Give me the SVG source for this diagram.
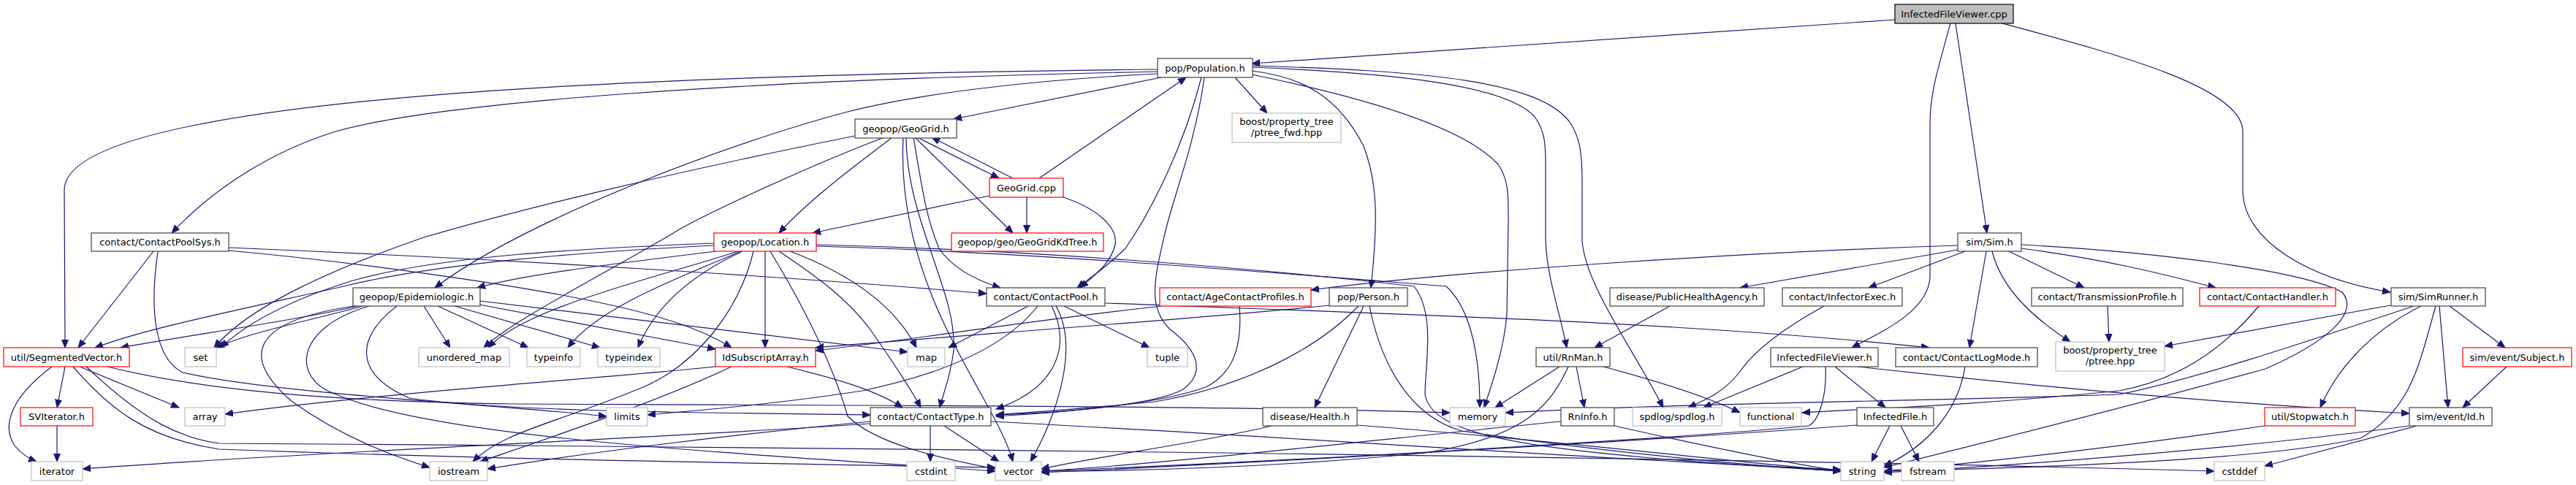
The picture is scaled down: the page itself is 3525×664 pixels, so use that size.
<svg xmlns="http://www.w3.org/2000/svg" width="3525" height="664" viewBox="0 0 3525 664">
<style>
.b rect{fill:#fff;stroke:#404040;stroke-width:1.2}
.r rect{fill:#fff;stroke:#ff0000;stroke-width:1.2}
.g rect{fill:#fff;stroke:#bfbfbf;stroke-width:1.2}
.m rect{fill:#bfbfbf;stroke:#000;stroke-width:1.2}
text{font-family:"DejaVu Sans","Liberation Sans",sans-serif;font-size:13px;fill:#000;text-anchor:middle}
#edges path{fill:none;stroke:#191970;stroke-width:1.2;marker-end:url(#a)}
</style>
<defs>
<marker id="a" markerUnits="userSpaceOnUse" markerWidth="12" markerHeight="10" refX="11" refY="5" orient="auto"><path d="M0,0.5 L11,5 L0,9.5 z" fill="#191970" stroke="#191970"/></marker>
</defs>
<rect width="3525" height="664" fill="#fff"/>
<g id="edges">
<path d="M2593,27 L1713,87"/>
<path d="M2676,32 L2719,319"/>
<path d="M2669,32 C2650,100 2641,130 2641,170 L2641,380 C2638,425 2580,452 2534,476"/>
<path d="M2740,32 C2900,75 3069,120 3069,180 L3069,260 C3069,330 3160,382 3271,400"/>
<path d="M1589,106 L1305,163"/>
<path d="M1584,95 C900,102 88,130 88,260 L89,476"/>
<path d="M1584,98 C1000,110 600,140 459,180 C380,205 300,250 235,319"/>
<path d="M1584,101 C1400,110 1250,130 1160,153 C1000,195 720,300 595,394"/>
<path d="M1644,106 C1620,200 1575,290 1540,340 C1515,365 1495,378 1474,394"/>
<path d="M1648,106 C1635,200 1605,270 1594,320 C1580,380 1570,420 1600,450 C1640,480 1650,510 1619,533 C1580,555 1450,565 1363,568"/>
<path d="M1690,106 L1734,155"/>
<path d="M1713,97 C1780,105 1830,130 1866,200 C1885,250 1886,300 1876,394"/>
<path d="M1713,102 C1850,130 2000,170 2050,225 C2064,245 2064,265 2064,300 L2062,430 C2058,480 2040,530 2031,558"/>
<path d="M1713,92 C1900,100 2060,115 2100,160 C2115,180 2115,200 2115,230 L2115,330 C2117,380 2135,430 2144,476"/>
<path d="M1713,90 C1950,97 2110,110 2150,170 C2162,190 2165,210 2165,250 L2165,330 C2170,390 2230,470 2276,558"/>
<path d="M1255,188 L1367,244"/>
<path d="M1386,244 L1275,188"/>
<path d="M1252,188 L1386,319"/>
<path d="M1405,270 L1405,319"/>
<path d="M1422,244 L1623,106"/>
<path d="M1354,268 L1112,319"/>
<path d="M1455,270 C1500,285 1530,310 1526,335 C1520,360 1500,375 1478,394"/>
<path d="M1221,188 C1180,220 1110,270 1066,319"/>
<path d="M1210,188 C1100,230 950,300 920,320 C800,390 700,440 662,476"/>
<path d="M1170,186 C900,240 700,290 580,325 C450,370 340,420 293,476"/>
<path d="M1250,188 C1262,260 1268,300 1285,340 C1305,370 1340,385 1369,394"/>
<path d="M1240,188 C1240,300 1310,400 1305,480 C1300,520 1290,540 1286,558"/>
<path d="M1236,188 C1230,300 1270,400 1300,460 C1340,540 1375,590 1386,632"/>
<path d="M210,344 L107,476"/>
<path d="M216,344 C205,420 210,490 250,510 C380,540 700,555 830,570"/>
<path d="M313,339 C700,355 1100,380 1350,402"/>
<path d="M313,343 C500,360 700,390 800,410 C900,430 960,450 1001,476"/>
<path d="M980,344 C850,360 720,375 653,394"/>
<path d="M977,336 C800,345 600,360 470,392 C300,430 200,450 130,476"/>
<path d="M977,333 C800,340 600,350 480,385 C400,410 340,440 302,476"/>
<path d="M1010,344 C900,380 720,420 668,476"/>
<path d="M1014,344 C930,380 820,420 777,476"/>
<path d="M1016,344 C960,370 900,410 873,476"/>
<path d="M1047,344 L1047,476"/>
<path d="M1031,344 C1010,430 950,500 880,530 C760,580 690,590 647,632"/>
<path d="M1054,344 C1100,420 1140,500 1160,570 C1200,610 1300,630 1362,642"/>
<path d="M1066,344 C1120,380 1160,410 1190,450 C1225,500 1245,530 1260,558"/>
<path d="M1081,344 C1150,370 1220,410 1254,476"/>
<path d="M1117,337 C1400,345 1700,370 1979,392 C2010,420 2025,480 2025,558"/>
<path d="M1117,335 C1400,342 1700,365 1935,392 C1965,430 1950,500 1950,540 C1960,600 2100,620 2519,645"/>
<path d="M490,419 C400,440 250,460 165,476"/>
<path d="M497,419 C420,440 340,455 296,476"/>
<path d="M580,419 L616,476"/>
<path d="M599,419 L723,476"/>
<path d="M622,419 L821,476"/>
<path d="M656,417 L979,478"/>
<path d="M657,412 C900,440 1100,465 1242,482"/>
<path d="M485,419 C340,440 330,490 400,550 C470,600 540,625 588,640"/>
<path d="M505,419 C400,450 400,520 460,540 C600,600 1000,620 1362,645"/>
<path d="M543,419 C490,460 480,510 560,545 C700,565 1000,565 1191,568"/>
<path d="M71,502 C20,540 0,580 20,610 C28,620 40,628 50,632"/>
<path d="M89,502 L78,558"/>
<path d="M109,502 L245,558"/>
<path d="M147,502 C300,540 500,550 700,553 C1200,555 1700,556 1984,565"/>
<path d="M100,502 C150,560 200,600 300,615 C700,630 1100,635 1362,640"/>
<path d="M118,502 C200,580 250,600 300,607 C1500,615 2500,630 3030,645"/>
<path d="M78,583 L78,632"/>
<path d="M979,502 C800,520 500,540 308,567"/>
<path d="M1001,502 C900,550 750,600 657,632"/>
<path d="M1077,502 C1150,520 1200,535 1235,558"/>
<path d="M1407,419 L1298,476"/>
<path d="M1420,419 C1380,470 1300,510 1180,535 C1050,555 950,562 886,568"/>
<path d="M1439,419 C1465,470 1450,530 1363,560"/>
<path d="M1445,419 C1480,480 1440,580 1410,632"/>
<path d="M1456,419 L1573,476"/>
<path d="M1512,415 C1900,430 2300,440 2640,476"/>
<path d="M1590,419 C1400,440 1250,465 1116,480"/>
<path d="M1696,419 C1700,470 1690,510 1650,530 C1580,555 1450,565 1363,570"/>
<path d="M1819,418 C1600,440 1300,460 1116,476"/>
<path d="M1859,419 C1800,480 1700,530 1580,550 C1480,560 1400,565 1363,568"/>
<path d="M1866,419 L1799,558"/>
<path d="M1874,419 C1890,500 1930,570 2000,590 C2200,620 2400,638 2519,645"/>
<path d="M1740,583 C1650,605 1500,625 1425,642"/>
<path d="M1857,582 C2100,600 2350,630 2519,645"/>
<path d="M1273,583 L1273,632"/>
<path d="M1292,583 L1367,632"/>
<path d="M1191,577 C1000,595 800,620 667,642"/>
<path d="M1191,580 C900,600 400,620 113,642"/>
<path d="M1356,577 C1800,600 2200,630 2519,643"/>
<path d="M2285,419 L2182,476"/>
<path d="M2679,336 C2400,345 2000,370 1794,397"/>
<path d="M2679,342 L2381,394"/>
<path d="M2689,344 L2557,394"/>
<path d="M2718,344 L2695,476"/>
<path d="M2726,344 C2740,400 2790,440 2833,468"/>
<path d="M2749,344 L2852,394"/>
<path d="M2766,340 C2880,355 2960,375 3032,394"/>
<path d="M2766,335 C2950,345 3150,370 3205,400 C3230,430 3180,470 3100,505 C2900,560 2700,610 2578,640"/>
<path d="M2496,419 C2440,450 2400,480 2380,510 C2360,535 2340,545 2310,558"/>
<path d="M2134,502 L2046,558"/>
<path d="M2146,502 C2120,560 2080,600 1950,620 C1750,640 1550,645 1425,645"/>
<path d="M2157,502 L2168,558"/>
<path d="M2194,502 C2280,525 2340,545 2381,565"/>
<path d="M2209,583 C2330,610 2450,635 2519,645"/>
<path d="M2136,577 C1900,600 1600,635 1425,645"/>
<path d="M2467,502 L2331,558"/>
<path d="M2498,502 C2500,540 2490,575 2475,583 C2300,600 1800,630 1425,645"/>
<path d="M2511,502 L2580,558"/>
<path d="M2542,502 C2750,525 3000,550 3297,566"/>
<path d="M2689,502 C2680,560 2640,610 2578,638"/>
<path d="M2884,419 L2886,468"/>
<path d="M3091,419 C3040,480 2980,520 2900,535 C2700,555 2550,560 2466,565"/>
<path d="M3271,418 L2962,474"/>
<path d="M3303,419 C3150,470 3000,520 2900,540 C2600,550 2300,552 2060,565"/>
<path d="M3313,419 C3250,450 3200,500 3175,558"/>
<path d="M3333,419 C3310,500 3300,560 3230,600 C3100,630 2800,640 2578,645"/>
<path d="M3338,419 L3350,558"/>
<path d="M3352,419 L3428,476"/>
<path d="M3430,502 L3370,558"/>
<path d="M3099,583 C2950,605 2750,630 2578,645"/>
<path d="M3297,583 C3100,610 2800,635 2578,647"/>
<path d="M3307,583 L3099,638"/>
<path d="M2586,583 L2561,632"/>
<path d="M2601,583 L2626,632"/>
<path d="M2541,582 C2300,600 1800,630 1425,647"/>
</g>
<g id="n1" class="m"><rect x="2593" y="6" width="162" height="26"/><text x="2674" y="23.5">InfectedFileViewer.cpp</text></g>
<g id="n2" class="b"><rect x="1584" y="80" width="130" height="26"/><text x="1649" y="97.5">pop/Population.h</text></g>
<g id="n3" class="b"><rect x="1170" y="163" width="139" height="26"/><text x="1239.5" y="180.5">geopop/GeoGrid.h</text></g>
<g id="n4" class="r"><rect x="1354" y="244" width="101" height="26"/><text x="1404.5" y="261.5">GeoGrid.cpp</text></g>
<g id="n5" class="g"><rect x="1686" y="155" width="149" height="40"/><text x="1760.5" y="171">boost/property_tree</text><text x="1760.5" y="186">/ptree_fwd.hpp</text></g>
<g id="n6" class="b"><rect x="125" y="319" width="188" height="25"/><text x="219" y="336">contact/ContactPoolSys.h</text></g>
<g id="n7" class="r"><rect x="977" y="319" width="140" height="25"/><text x="1047" y="336">geopop/Location.h</text></g>
<g id="n8" class="r"><rect x="1302" y="319" width="208" height="25"/><text x="1406" y="336">geopop/geo/GeoGridKdTree.h</text></g>
<g id="n9" class="b"><rect x="2679" y="319" width="87" height="25"/><text x="2722.5" y="336">sim/Sim.h</text></g>
<g id="n10" class="b"><rect x="483" y="394" width="174" height="25"/><text x="570" y="411">geopop/Epidemiologic.h</text></g>
<g id="n11" class="b"><rect x="1350" y="394" width="162" height="25"/><text x="1431" y="411">contact/ContactPool.h</text></g>
<g id="n12" class="r"><rect x="1587" y="394" width="207" height="25"/><text x="1690.5" y="411">contact/AgeContactProfiles.h</text></g>
<g id="n13" class="b"><rect x="1819" y="394" width="107" height="25"/><text x="1872.5" y="411">pop/Person.h</text></g>
<g id="n14" class="b"><rect x="2203" y="394" width="211" height="25"/><text x="2308.5" y="411">disease/PublicHealthAgency.h</text></g>
<g id="n15" class="b"><rect x="2439" y="394" width="164" height="25"/><text x="2521" y="411">contact/InfectorExec.h</text></g>
<g id="n16" class="b"><rect x="2780" y="394" width="207" height="25"/><text x="2883.5" y="411">contact/TransmissionProfile.h</text></g>
<g id="n17" class="r"><rect x="3010" y="394" width="186" height="25"/><text x="3103" y="411">contact/ContactHandler.h</text></g>
<g id="n18" class="b"><rect x="3272" y="394" width="129" height="25"/><text x="3336.5" y="411">sim/SimRunner.h</text></g>
<g id="n19" class="r"><rect x="5" y="476" width="172" height="26"/><text x="91" y="493.5">util/SegmentedVector.h</text></g>
<g id="n20" class="g"><rect x="253" y="476" width="43" height="26"/><text x="274.5" y="493.5">set</text></g>
<g id="n21" class="g"><rect x="573" y="476" width="124" height="26"/><text x="635" y="493.5">unordered_map</text></g>
<g id="n22" class="g"><rect x="721" y="476" width="73" height="26"/><text x="757.5" y="493.5">typeinfo</text></g>
<g id="n23" class="g"><rect x="818" y="476" width="85" height="26"/><text x="860.5" y="493.5">typeindex</text></g>
<g id="n24" class="r"><rect x="979" y="476" width="137" height="26"/><text x="1047.5" y="493.5">IdSubscriptArray.h</text></g>
<g id="n25" class="g"><rect x="1242" y="476" width="51" height="26"/><text x="1267.5" y="493.5">map</text></g>
<g id="n26" class="g"><rect x="1570" y="476" width="55" height="26"/><text x="1597.5" y="493.5">tuple</text></g>
<g id="n27" class="b"><rect x="2102" y="476" width="101" height="26"/><text x="2152.5" y="493.5">util/RnMan.h</text></g>
<g id="n28" class="b"><rect x="2423" y="476" width="147" height="26"/><text x="2496.5" y="493.5">InfectedFileViewer.h</text></g>
<g id="n29" class="b"><rect x="2594" y="476" width="194" height="26"/><text x="2691" y="493.5">contact/ContactLogMode.h</text></g>
<g id="n30" class="g"><rect x="2813" y="468" width="149" height="40"/><text x="2887.5" y="484">boost/property_tree</text><text x="2887.5" y="499">/ptree.hpp</text></g>
<g id="n31" class="r"><rect x="3370" y="476" width="149" height="26"/><text x="3444.5" y="493.5">sim/event/Subject.h</text></g>
<g id="n32" class="r"><rect x="28" y="558" width="99" height="25"/><text x="77.5" y="575">SVIterator.h</text></g>
<g id="n33" class="g"><rect x="253" y="558" width="55" height="25"/><text x="280.5" y="575">array</text></g>
<g id="n34" class="g"><rect x="830" y="558" width="56" height="25"/><text x="858" y="575">limits</text></g>
<g id="n35" class="b"><rect x="1191" y="558" width="165" height="25"/><text x="1273.5" y="575">contact/ContactType.h</text></g>
<g id="n36" class="b"><rect x="1728" y="558" width="129" height="25"/><text x="1792.5" y="575">disease/Health.h</text></g>
<g id="n37" class="g"><rect x="1984" y="558" width="76" height="25"/><text x="2022" y="575">memory</text></g>
<g id="n38" class="b"><rect x="2136" y="558" width="73" height="25"/><text x="2172.5" y="575">RnInfo.h</text></g>
<g id="n39" class="g"><rect x="2234" y="558" width="122" height="25"/><text x="2295" y="575">spdlog/spdlog.h</text></g>
<g id="n40" class="g"><rect x="2381" y="558" width="84" height="25"/><text x="2423" y="575">functional</text></g>
<g id="n41" class="b"><rect x="2541" y="558" width="105" height="25"/><text x="2593.5" y="575">InfectedFile.h</text></g>
<g id="n42" class="r"><rect x="3099" y="558" width="124" height="25"/><text x="3161" y="575">util/Stopwatch.h</text></g>
<g id="n43" class="b"><rect x="3297" y="558" width="113" height="25"/><text x="3353.5" y="575">sim/event/Id.h</text></g>
<g id="n44" class="g"><rect x="43" y="632" width="70" height="26"/><text x="78" y="649.5">iterator</text></g>
<g id="n45" class="g"><rect x="588" y="632" width="79" height="26"/><text x="627.5" y="649.5">iostream</text></g>
<g id="n46" class="g"><rect x="1241" y="632" width="66" height="26"/><text x="1274" y="649.5">cstdint</text></g>
<g id="n47" class="g"><rect x="1362" y="632" width="63" height="26"/><text x="1393.5" y="649.5">vector</text></g>
<g id="n48" class="g"><rect x="2519" y="632" width="59" height="26"/><text x="2548.5" y="649.5">string</text></g>
<g id="n49" class="g"><rect x="2602" y="632" width="72" height="26"/><text x="2638" y="649.5">fstream</text></g>
<g id="n50" class="g"><rect x="3030" y="632" width="69" height="26"/><text x="3064.5" y="649.5">cstddef</text></g>
</svg>
